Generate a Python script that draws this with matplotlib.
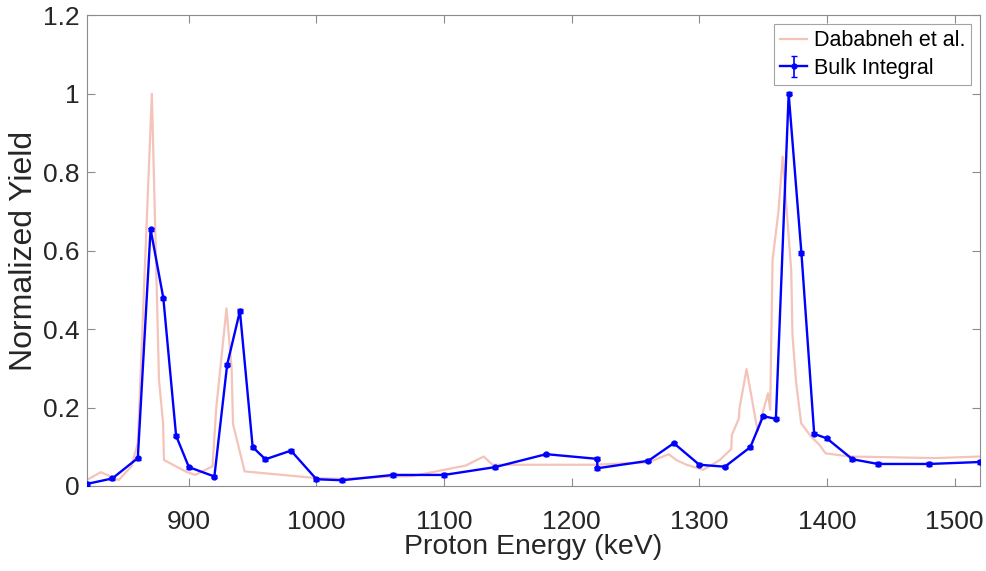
import matplotlib
matplotlib.use("Agg")
import matplotlib.pyplot as plt
from matplotlib.ticker import FuncFormatter
import numpy as np

# Dababneh et al. reference curve
ref_energy = [820, 831, 845, 855, 860, 871, 876.6, 879.8, 880.5, 898, 905, 918.5, 921.5, 929.5,
              933.5, 934.6, 943.7, 1000, 1020, 1060, 1075, 1117, 1131, 1138, 1217, 1260, 1276,
              1282, 1290, 1303, 1316, 1325, 1325.5, 1331, 1331.5, 1337, 1345.7, 1353.8, 1355.5,
              1357.4, 1362, 1365.3, 1372, 1373, 1375.8, 1379.8, 1387.5, 1394, 1399, 1418, 1485, 1520]
ref_yield = [0.015, 0.035, 0.015, 0.05, 0.109, 1.0, 0.27, 0.16, 0.066, 0.036, 0.028, 0.05, 0.2, 0.453,
             0.3, 0.158, 0.037, 0.02, 0.018, 0.024, 0.025, 0.052, 0.075, 0.054, 0.054, 0.06, 0.081,
             0.066, 0.054, 0.041, 0.066, 0.094, 0.13, 0.172, 0.198, 0.298, 0.14, 0.236, 0.194,
             0.577, 0.7, 0.84, 0.55, 0.385, 0.265, 0.16, 0.126, 0.105, 0.083, 0.075, 0.071, 0.075]

# Bulk integral measurement
bulk_energy = [820, 840, 860, 870, 880, 890, 900, 920, 930, 940, 950, 960, 980, 1000, 1020, 1060,
               1100, 1140, 1180, 1220, 1220, 1260, 1280, 1300, 1320, 1340, 1350, 1360, 1370, 1380,
               1390, 1400, 1420, 1440, 1480, 1520]
bulk_yield = [0.005, 0.019, 0.071, 0.655, 0.479, 0.128, 0.048, 0.024, 0.309, 0.446, 0.099, 0.068,
              0.090, 0.017, 0.0145, 0.028, 0.028, 0.048, 0.081, 0.069, 0.045, 0.064, 0.109, 0.054,
              0.049, 0.099, 0.178, 0.171, 1.0, 0.594, 0.133, 0.121, 0.068, 0.056, 0.056, 0.061]
bulk_err = [0.004] * len(bulk_yield)

x_ticks = [900, 1000, 1100, 1200, 1300, 1400, 1500]
y_ticks = [0, 0.2, 0.4, 0.6, 0.8, 1.0, 1.2]

plt.rcParams['font.family'] = ['Liberation Sans', 'DejaVu Sans']

fig = plt.figure(figsize=(9.86, 5.71), dpi=100)
ax = fig.add_axes([0.088, 0.149, 0.906, 0.824])

ax.plot(ref_energy, ref_yield, color='#f4c3ba', lw=1.6, label='Dababneh et al.', zorder=2)
ax.errorbar(bulk_energy, bulk_yield, yerr=bulk_err, color='#0000ff', lw=1.7, marker='o',
            markersize=3.5, capsize=2.5, elinewidth=1.2, label='Bulk Integral', zorder=3)

ax.set_xlim(820, 1520)
ax.set_ylim(0, 1.2)
ax.set_xticks(x_ticks)
ax.set_yticks(y_ticks)
ax.yaxis.set_major_formatter(FuncFormatter(lambda v, p: '%g' % v))

ax.tick_params(direction='in', top=True, right=True, length=6, width=0.8,
               color='#8c8c8c', labelsize=19, labelcolor='#262626')
ax.tick_params(axis='x', pad=17)
ax.tick_params(axis='y', pad=5)
for s in ax.spines.values():
    s.set_color('#8c8c8c')
    s.set_linewidth(0.8)

ax.set_xlabel('Proton Energy (keV)', fontsize=20.5, color='#262626', labelpad=0)
ax.set_ylabel('Normalized Yield', fontsize=23, color='#262626', labelpad=3)

leg = ax.legend(loc='upper right', fontsize=15.5, frameon=True, fancybox=False,
                borderpad=0.3, handlelength=1.25, handletextpad=0.3, labelspacing=0.3,
                borderaxespad=0.4)
leg.get_frame().set_edgecolor('#8c8c8c')
leg.get_frame().set_linewidth(0.8)

fig.savefig('out.png', dpi=100)
